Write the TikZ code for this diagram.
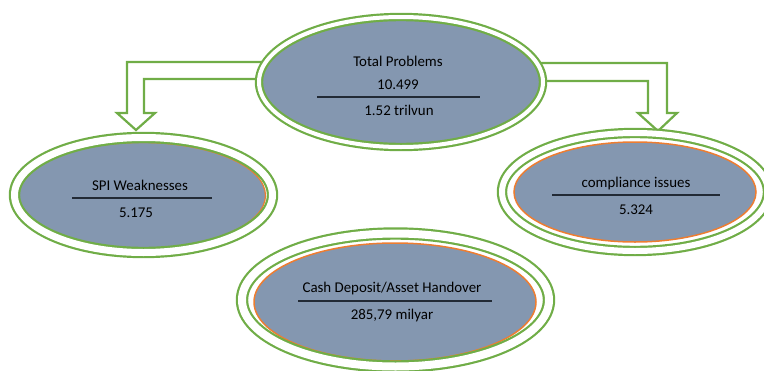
\documentclass[tikz,border=0pt]{standalone}
\usepackage{fontspec}
\setmainfont{Carlito}
\usetikzlibrary{shapes.geometric}
\definecolor{ringgreen}{HTML}{70AD47}
\definecolor{coreblue}{HTML}{8497B0}
\definecolor{edgeorange}{HTML}{ED7D31}
\definecolor{rulegray}{HTML}{222A35}

\begin{document}
\begin{tikzpicture}[x=1pt, y=-1pt,
    ring/.style={ellipse, draw=ringgreen, line width=2.2pt, double=white, inner sep=0pt},
    core/.style={ellipse, fill=coreblue, inner sep=0pt},
    hollow/.style={draw=ringgreen, line width=2.2pt, fill=white, line join=miter},
    txt/.style={anchor=base, inner sep=0pt, font=\fontsize{14.9}{17}\selectfont},
    bar/.style={draw=rulegray, line width=2pt}]
    % pixel grid of the picture, origin top-left
    \useasboundingbox (0,0) rectangle (764,370);

    % --- Hollow bent arrows (drawn first, ellipses cover their roots) ---
    \coordinate (lefttip) at (136,130);
    \coordinate (righttip) at (658,131);
    \draw[hollow] (lefttip) -- ++(19,-17) -- ++(-11,0) -- ++(0,-34) -- ++(156,0)
        -- ++(0,-17) -- ++(-173,0) -- ++(0,51) -- ++(-10,0) -- cycle;
    \draw[hollow] (righttip) -- ++(19,-18) -- ++(-10,0) -- ++(0,-50) -- ++(-147,0)
        -- ++(0,18) -- ++(128,0) -- ++(0,32) -- ++(-10,0) -- cycle;

    % --- Ellipses: blue core, then double green ring ---
    % Total Problems
    \node[core, minimum width=280, minimum height=124] (topcore) at (401,82) {};
    \node[ring, double distance=4pt, minimum width=284, minimum height=130] (topring) at (401,82) {};

    % SPI Weaknesses
    \node[core, draw=edgeorange, line width=1.2pt, minimum width=248, minimum height=106] (spicore) at (141.5,195.5) {};
    \node[ring, double distance=7pt, minimum width=258, minimum height=115] (spiring) at (143.5,195) {};

    % compliance issues
    \node[core, draw=edgeorange, line width=1.5pt, minimum width=242, minimum height=100] (compcore) at (635,192) {};
    \node[ring, double distance=6pt, minimum width=266, minimum height=118] (compring) at (635,192) {};

    % Cash Deposit/Asset Handover
    \node[core, draw=edgeorange, line width=1.5pt, minimum width=282, minimum height=118] (cashcore) at (395,302) {};
    \node[ring, double distance=8pt, minimum width=307, minimum height=133] (cashring) at (395.5,300) {};

    % --- Text Labels and rules ---
    \node[txt] (toptitle) at (398,66) {Total Problems};
    \node[txt] (topcount) at (398,89) {10.499};
    \draw[bar] (317,97) -- (480,97);
    \node[txt] (topsum) at (399,115) {1.52 trilvun};

    \node[txt] (spititle) at (140,190) {SPI Weaknesses};
    \draw[bar] (72,198) -- (212,198);
    \node[txt] (spicount) at (136,217) {5.175};

    \node[txt] (comptitle) at (636,187) {compliance issues};
    \draw[bar] (552,195) -- (720,195);
    \node[txt] (compcount) at (636,214) {5.324};

    \node[txt] (cashtitle) at (392,292) {Cash Deposit/Asset Handover};
    \draw[bar] (298,301) -- (492,301);
    \node[txt] (cashsum) at (392,319) {285,79 milyar};

\end{tikzpicture}
\end{document}
